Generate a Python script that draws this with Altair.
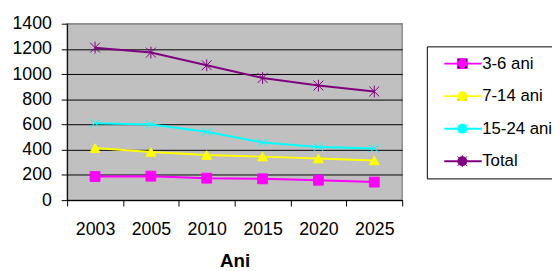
import altair as alt
import pandas as pd

ani = ["2003", "2005", "2010", "2015", "2020", "2025"]
serii = ["3-6 ani", "7-14 ani", "15-24 ani", "Total"]
v_3_6 = [187, 190, 174, 169, 158, 143]
v_7_14 = [413, 382, 358, 345, 330, 315]
v_15_24 = [610, 600, 543, 457, 421, 410]
v_total = [1210, 1171, 1070, 969, 909, 862]
culori = ["#FF00FF", "#FFFF00", "#00FFFF", "#800080"]
forme = [
    "square",
    "triangle-up",
    "M-1,-0.8L1,0.8M-1,0.8L1,-0.8",
    "M-1,-1L1,1M-1,1L1,-1M0,-1.2L0,1.2",
]

rows = []
for s, vals in zip(serii, [v_3_6, v_7_14, v_15_24, v_total]):
    for i, (a, v) in enumerate(zip(ani, vals)):
        rows.append({"An": a, "Poz": i + 0.5, "Serie": s, "Valoare": v})
df = pd.DataFrame(rows)

expr = "''"
for i in reversed(range(len(ani))):
    expr = "datum.value == %s ? '%s' : (%s)" % (i + 0.5, ani[i], expr)
x_vals = [i * 0.5 for i in range(2 * len(ani) + 1)]

x_enc = alt.X(
    "Poz:Q",
    scale=alt.Scale(domain=[0, len(ani)], nice=False, zero=False),
    axis=alt.Axis(
        values=x_vals,
        labelExpr=expr,
        tickOpacity={"condition": {"test": "datum.value % 1 != 0", "value": 0}, "value": 1},
        grid=False,
        title="Ani",
        titleFontSize=19,
        titleFontWeight="bold",
        titleFont="Liberation Sans",
        titleColor="black",
        titlePadding=13,
        labelFont="Liberation Sans",
        labelFontSize=18,
        labelColor="black",
        labelPadding=15,
        labelOverlap=False,
        labelFlush=False,
        tickSize=6,
        tickColor="black",
        domainColor="black",
    ),
)
y_enc = alt.Y(
    "Valoare:Q",
    scale=alt.Scale(domain=[0, 1400], nice=False),
    axis=alt.Axis(
        values=list(range(0, 1401, 200)),
        format="d",
        labelOverlap=False,
        title=None,
        grid=True,
        gridColor={"condition": {"test": "datum.value == 1400", "value": "#8c8c8c"}, "value": "black"},
        gridWidth=1,
        labelFont="Liberation Sans",
        labelFontSize=18,
        labelColor="black",
        labelPadding=10,
        tickSize=6,
        tickColor="black",
        domainColor="black",
    ),
)

lines = alt.Chart(df).mark_line(strokeWidth=2).encode(
    x=x_enc,
    y=y_enc,
    color=alt.Color(
        "Serie:N",
        scale=alt.Scale(domain=serii, range=culori),
        legend=alt.Legend(
            title=None,
            orient="none",
            legendX=365,
            legendY=23,
            padding=9,
            strokeColor="black",
            symbolType="M-5,0H5",
            symbolSize=57.76,
            symbolStrokeWidth=2,
            symbolOffset=19.2,
            labelFont="Liberation Sans",
            labelFontSize=17,
            labelColor="black",
            labelOffset=11,
            rowPadding=15,
            labelLimit=200,
        ),
    ),
)

leg_pts = dict(
    title=None,
    orient="none",
    legendX=365,
    legendY=23,
    padding=9,
    symbolSize=100,
    symbolOffset=18.5,
    symbolStrokeWidth=1,
    labelFont="Liberation Sans",
    labelFontSize=17,
    labelOpacity=0,
    labelOffset=1,
    rowPadding=15,
    labelLimit=200,
)

points = alt.Chart(df).mark_point(filled=True, size=100, strokeWidth=1, opacity=1).encode(
    x=x_enc,
    y=y_enc,
    color=alt.Color("Serie:N", scale=alt.Scale(domain=serii, range=culori), legend=alt.Legend(**leg_pts)),
    stroke=alt.Stroke("Serie:N", scale=alt.Scale(domain=serii, range=culori), legend=alt.Legend(**leg_pts)),
    shape=alt.Shape("Serie:N", scale=alt.Scale(domain=serii, range=forme), legend=alt.Legend(**leg_pts)),
)

chart = (
    alt.layer(lines, points)
    .resolve_scale(color="independent")
    .properties(
        width=340,
        height=179,
        autosize=alt.AutoSizeParams(type="none"),
        padding={"left": 60, "top": 14, "right": 152, "bottom": 70},
        background="white",
    )
    .configure_view(fill="#C0C0C0", stroke="#8c8c8c", strokeWidth=1.5)
)

chart.save("out.html", embed_options={"renderer": "svg", "actions": False})
